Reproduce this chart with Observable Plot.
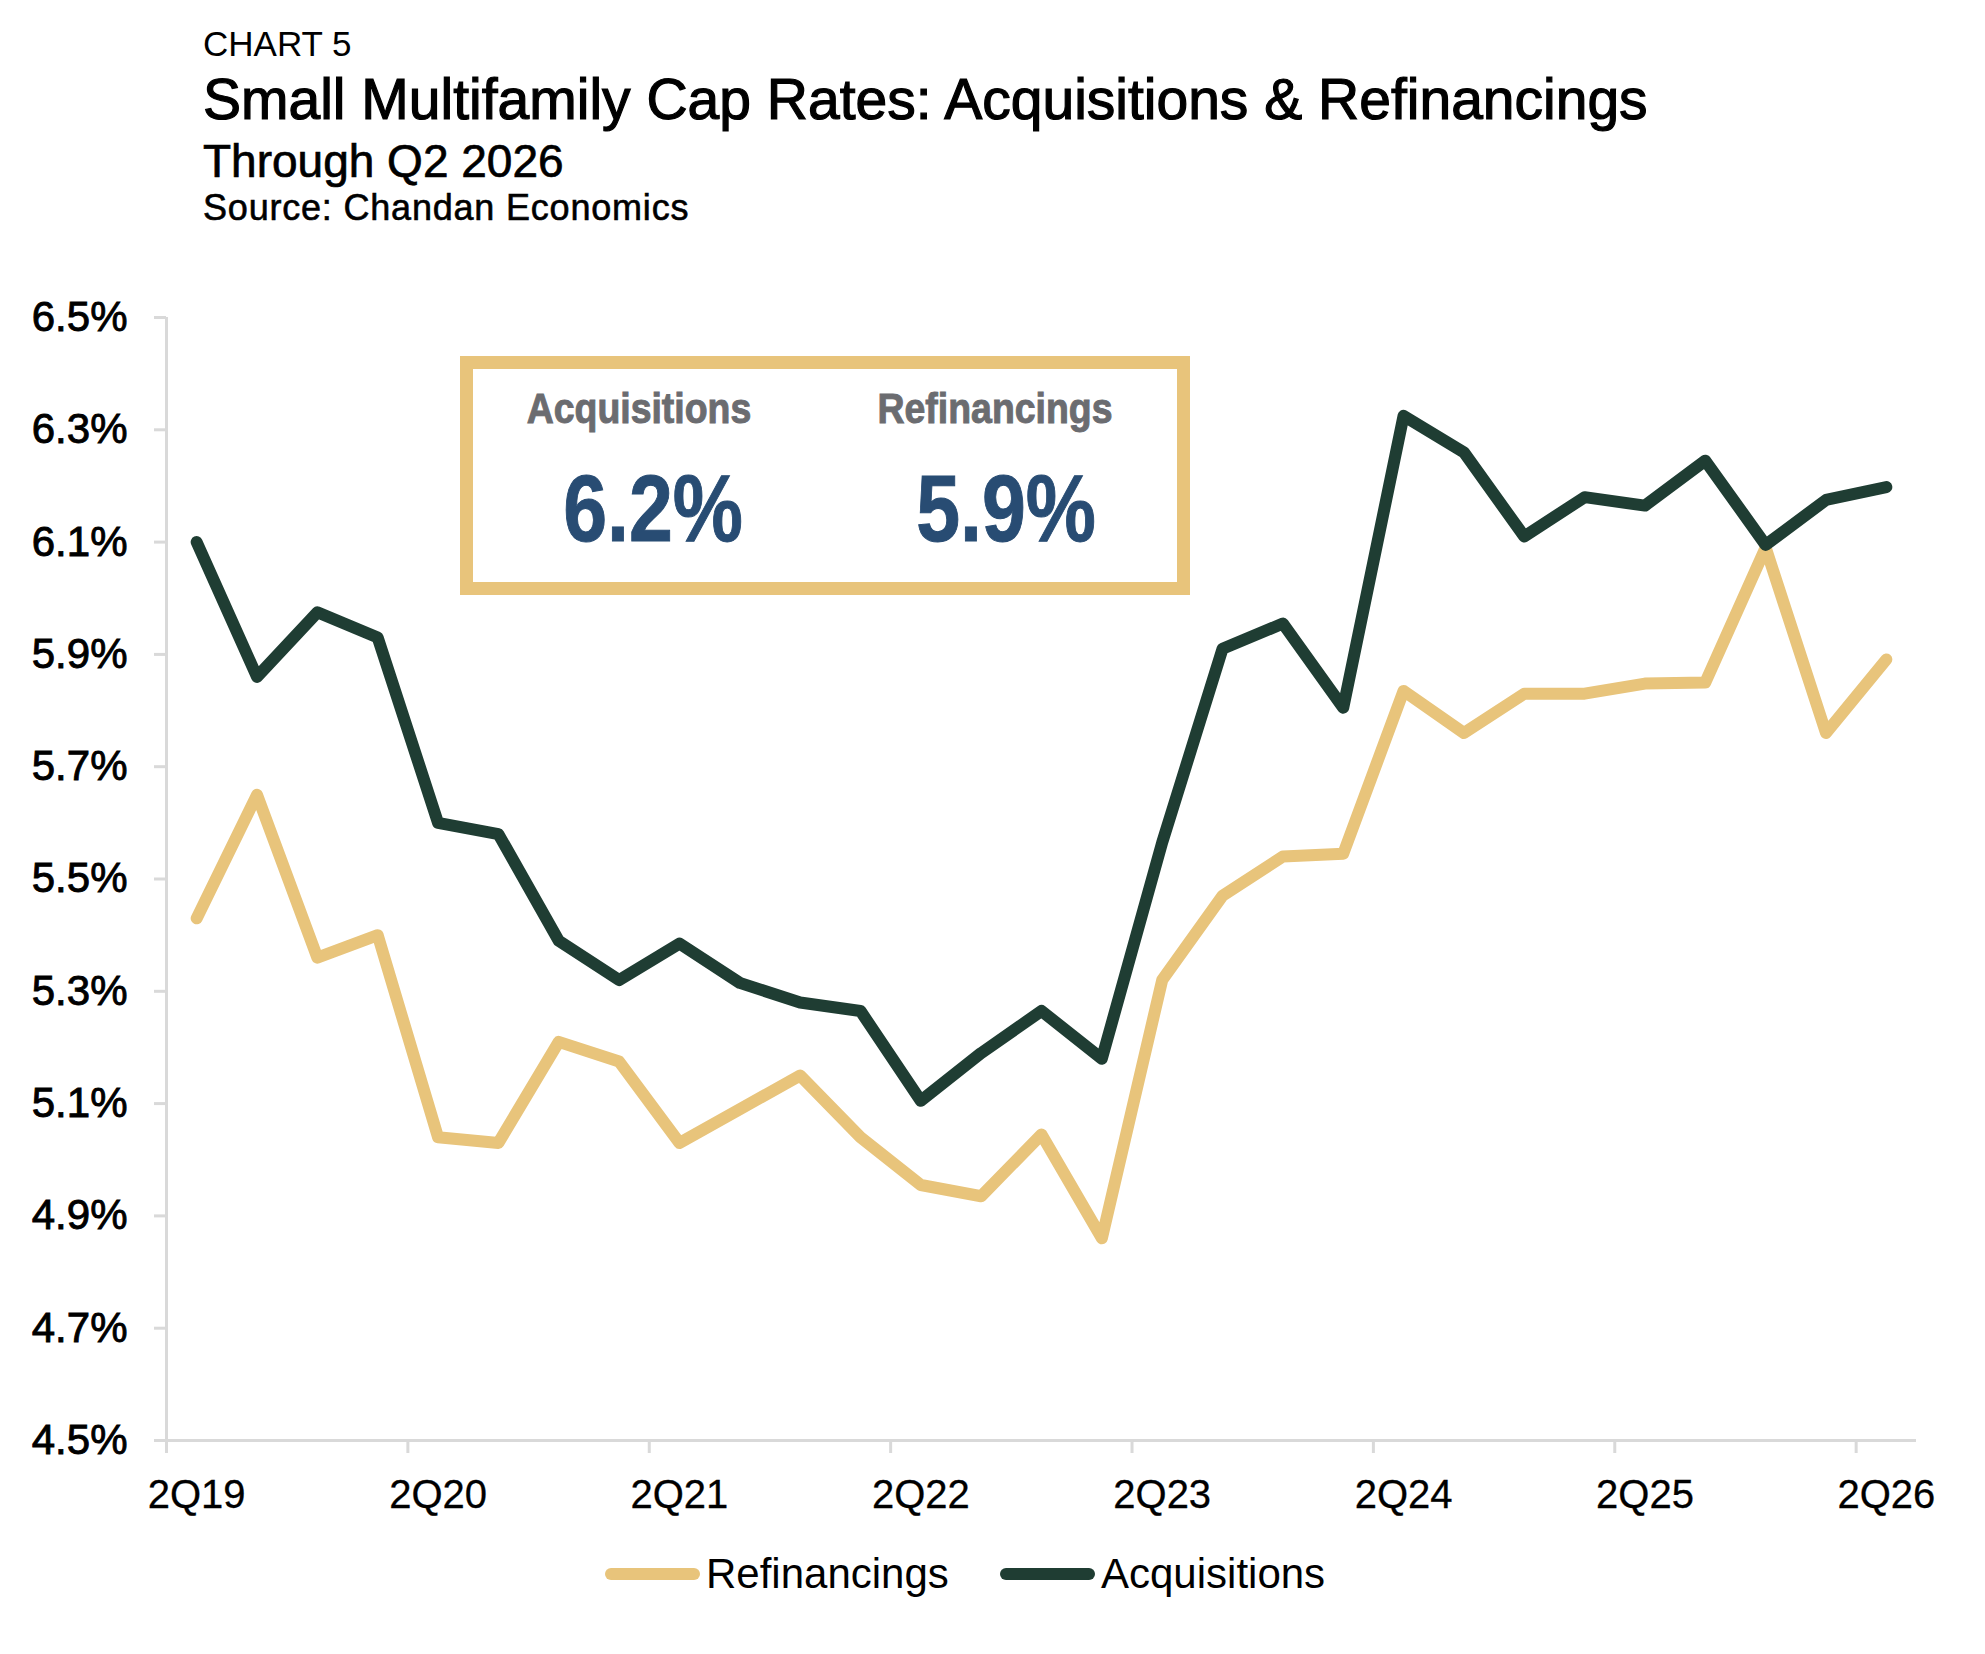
<!DOCTYPE html>
<html>
<head>
<meta charset="utf-8">
<script src="https://cdn.jsdelivr.net/npm/d3@7"></script>
<script src="https://cdn.jsdelivr.net/npm/@observablehq/plot@0.6"></script>
<style>
  html, body { margin: 0; padding: 0; background: #fff; }
  #page { position: relative; width: 1985px; height: 1654px; font-family: "Liberation Sans", Arial, Helvetica, sans-serif; color: #000; overflow: hidden; }
  .t { position: absolute; left: 203px; white-space: nowrap; line-height: 1; }
  #chart { position: absolute; left: 0; top: 250px; }
  #box { position: absolute; left: 460px; top: 356px; width: 704px; height: 213px; border: 13px solid #e8c47b; background: #fff; }
  .cell { position: absolute; width: 600px; text-align: center; line-height: 1; white-space: nowrap; font-family: "Liberation Sans", Arial, sans-serif; font-weight: bold; }
  .hdr { color: #6b6c70; font-size: 43px; transform: scaleX(0.87); -webkit-text-stroke: 1px #6b6c70; }
  .num { color: #284c73; font-size: 95px; transform: scaleX(0.83); -webkit-text-stroke: 1px #284c73; }
  .leg { position: absolute; top: 1550px; display: flex; align-items: center; height: 48px; font-size: 42px; white-space: nowrap; }
  .sw { display: inline-block; width: 95px; height: 12px; border-radius: 6px; margin-right: 6px; }
  #chart svg g[aria-label="y-axis tick label"] text { stroke: #000; stroke-width: 0.9px; }
  #chart svg g[aria-label="x-axis tick label"] text { stroke: #000; stroke-width: 0.3px; }
</style>
</head>
<body>
<div id="page">
  <div class="t" style="top:26px;font-size:35px;">CHART 5</div>
  <div class="t" style="top:71px;font-size:57px;-webkit-text-stroke:1.2px #000;">Small Multifamily Cap Rates: Acquisitions &amp; Refinancings</div>
  <div class="t" style="top:138px;font-size:46px;-webkit-text-stroke:0.7px #000;">Through Q2 2026</div>
  <div class="t" style="top:190px;font-size:36px;letter-spacing:0.8px;-webkit-text-stroke:0.6px #000;">Source: Chandan Economics</div>
  <div id="chart"></div>
  <div id="box"></div>
  <div id="cells"></div>
  <div id="legend"></div>
</div>
<script>
const quarters = ["2Q19","3Q19","4Q19","1Q20","2Q20","3Q20","4Q20","1Q21","2Q21","3Q21","4Q21","1Q22","2Q22","3Q22","4Q22","1Q23","2Q23","3Q23","4Q23","1Q24","2Q24","3Q24","4Q24","1Q25","2Q25","3Q25","4Q25","1Q26","2Q26"];
const acquisitions = [6.10,5.86,5.975,5.93,5.60,5.58,5.39,5.32,5.385,5.315,5.28,5.265,5.105,5.19,5.265,5.18,5.565,5.91,5.955,5.805,6.325,6.26,6.11,6.18,6.165,6.245,6.095,6.175,6.198];
const refinancings = [5.43,5.65,5.36,5.40,5.04,5.03,5.21,5.175,5.03,5.09,5.15,5.04,4.955,4.935,5.045,4.86,5.32,5.47,5.54,5.545,5.835,5.76,5.83,5.83,5.848,5.85,6.09,5.76,5.891];
const labelQuarters = ["2Q19","2Q20","2Q21","2Q22","2Q23","2Q24","2Q25","2Q26"];
const yTicks = [4.5,4.7,4.9,5.1,5.3,5.5,5.7,5.9,6.1,6.3,6.5];
const seriesNames = ["Refinancings","Acquisitions"];
const seriesColors = ["#e8c47b","#1f3d33"];

const rows = quarters.map((q, i) => ({q, x: i + 0.5, acq: acquisitions[i], refi: refinancings[i]}));
const labelPos = labelQuarters.map(q => quarters.indexOf(q) + 0.5);
const boundaryPos = labelQuarters.map(q => quarters.indexOf(q));

const grey = "#d9d9d9";
const chart = Plot.plot({
  width: 1985,
  height: 1270,
  marginLeft: 166,
  marginRight: 69,
  marginTop: 67,
  marginBottom: 80,
  style: {fontFamily: "'Liberation Sans', Arial, sans-serif", fontSize: "40px", background: "transparent", color: "#000", overflow: "visible"},
  x: {domain: [0, quarters.length], axis: null},
  y: {domain: [yTicks[0], yTicks[yTicks.length - 1]], axis: null},
  marks: [
    Plot.ruleY([yTicks[0]], {stroke: grey, strokeWidth: 3}),
    Plot.ruleX([0], {stroke: grey, strokeWidth: 3}),
    Plot.axisY({ticks: yTicks, label: null, tickSize: 12, tickPadding: 27, tickFormat: d => d.toFixed(1) + "%", stroke: grey, strokeWidth: 3, fill: "#000", fontSize: 42}),
    Plot.axisX({ticks: boundaryPos, label: null, tickSize: 13, tickFormat: () => "", stroke: grey, strokeWidth: 3}),
    Plot.axisX({ticks: labelPos, label: null, tickSize: 0, tickPadding: 39, tickFormat: d => quarters[Math.round(d - 0.5)], fill: "#000", fontSize: 40}),
    Plot.lineY(rows, {x: "x", y: "refi", stroke: seriesColors[0], strokeWidth: 12, strokeLinejoin: "round", strokeLinecap: "round"}),
    Plot.lineY(rows, {x: "x", y: "acq", stroke: seriesColors[1], strokeWidth: 12, strokeLinejoin: "round", strokeLinecap: "round"})
  ]
});
document.getElementById("chart").append(chart);

// Annotation box with latest values (page coordinates of the text centres / baselines)
const cells = document.getElementById("cells");
const latest = [
  {name: "Acquisitions", v: acquisitions[acquisitions.length - 1], hx: 639, nx: 653},
  {name: "Refinancings", v: refinancings[refinancings.length - 1], hx: 995, nx: 1006}
];
latest.forEach(d => {
  const h = document.createElement("div");
  h.className = "cell hdr";
  h.style.left = (d.hx - 300) + "px";
  h.style.top = (423 - 0.8465 * 43) + "px";
  h.textContent = d.name;
  const n = document.createElement("div");
  n.className = "cell num";
  n.style.left = (d.nx - 300) + "px";
  n.style.top = (541 - 0.8465 * 95) + "px";
  n.textContent = d.v.toFixed(1) + "%";
  cells.append(h, n);
});

// Legend
const legend = document.getElementById("legend");
const legLeft = [605, 1000];
seriesNames.forEach((n, i) => {
  const it = document.createElement("div");
  it.className = "leg";
  it.style.left = legLeft[i] + "px";
  it.innerHTML = `<span class="sw" style="background:${seriesColors[i]}"></span><span>${n}</span>`;
  legend.append(it);
});
</script>
</body>
</html>
